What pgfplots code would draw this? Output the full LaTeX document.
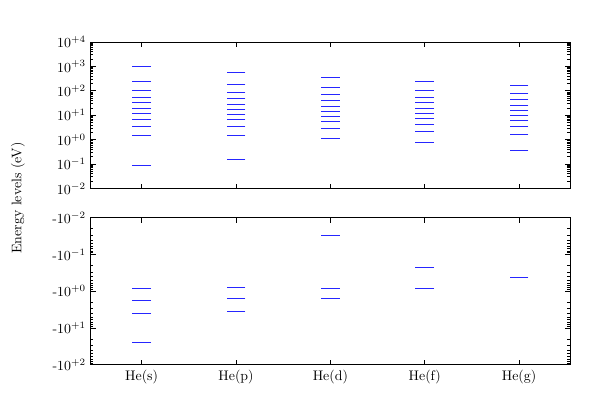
\documentclass[border=0pt]{standalone}
\usepackage{pgfplots}
\pgfplotsset{compat=1.18}
\usepackage{pgfplotstable}

\pgfplotstableread{
x y
1 1040
1 245
1 105
1 54.2
1 32.8
1 19.2
1 11.6
1 6.8
1 3.63
1 1.51
1 0.089
2 573
2 185
2 86.9
2 49.3
2 28.9
2 17.5
2 10.9
2 6.6
2 3.52
2 1.51
2 0.157
3 357
3 139
3 69.7
3 39.6
3 23.9
3 14.5
3 9.04
3 5.64
3 2.92
3 1.14
4 245
4 105
4 54.2
4 32.8
4 19.8
4 12.4
4 7.48
4 4.39
4 2.2
4 0.755
5 173
5 79
5 43.5
5 25.5
5 15.9
5 9.94
5 6.2
5 3.52
5 1.6
5 0.366
}\toptable

\pgfplotstableread{
x y
1 0.845
1 1.73
1 4.07
1 24.6
2 0.778
2 1.58
2 3.51
3 0.0303
3 0.828
3 1.58
4 0.226
4 0.845
5 0.415
}\bottable

\begin{document}
\begin{tikzpicture}[x=1pt,y=1pt]
\path[use as bounding box] (0,0) rectangle (432,302.4);
\pgfplotsset{
  every axis/.style={
    scale only axis,
    width=345.1pt,
    anchor=south west,
    xmin=0.46, xmax=5.54,
    xtick={1,2,3,4,5},
    ymode=log,
    axis line style={black, line width=0.6pt},
    every tick/.style={black, line width=0.5pt},
    major tick length=3.5pt,
    minor tick length=2pt,
    tick align=inside,
    xtick pos=both, ytick pos=both,
    tick label style={font=\normalsize},
  },
  lvl/.style={draw=none, mark=-, mark size=6.78pt,
    mark options={draw=blue!85!white, line width=0.45pt}},
}
\begin{axis}[
  at={(65.3pt,166.7pt)},
  height=105.5pt,
  ymin=1e-2, ymax=1e4,
  xticklabels={},
  ytick={1e-2,1e-1,1,1e1,1e2,1e3,1e4},
  yticklabels={$10^{-2}$,$10^{-1}$,$10^{+0}$,$10^{+1}$,$10^{+2}$,$10^{+3}$,$10^{+4}$},
]
\addplot[lvl] table[x=x,y=y] {\toptable};
\end{axis}
\begin{axis}[
  at={(65.3pt,39.8pt)},
  height=105.8pt,
  ymin=1e-2, ymax=1e2,
  y dir=reverse,
  xticklabels={He(s),He(p),He(d),He(f),He(g)},
  ytick={1e-2,1e-1,1,1e1,1e2},
  yticklabels={-$10^{-2}$,-$10^{-1}$,-$10^{+0}$,-$10^{+1}$,-$10^{+2}$},
]
\addplot[lvl] table[x=x,y=y] {\bottable};
\end{axis}
\node[rotate=90] at (12.96,159.8) {Energy levels (eV)};
\end{tikzpicture}
\end{document}
